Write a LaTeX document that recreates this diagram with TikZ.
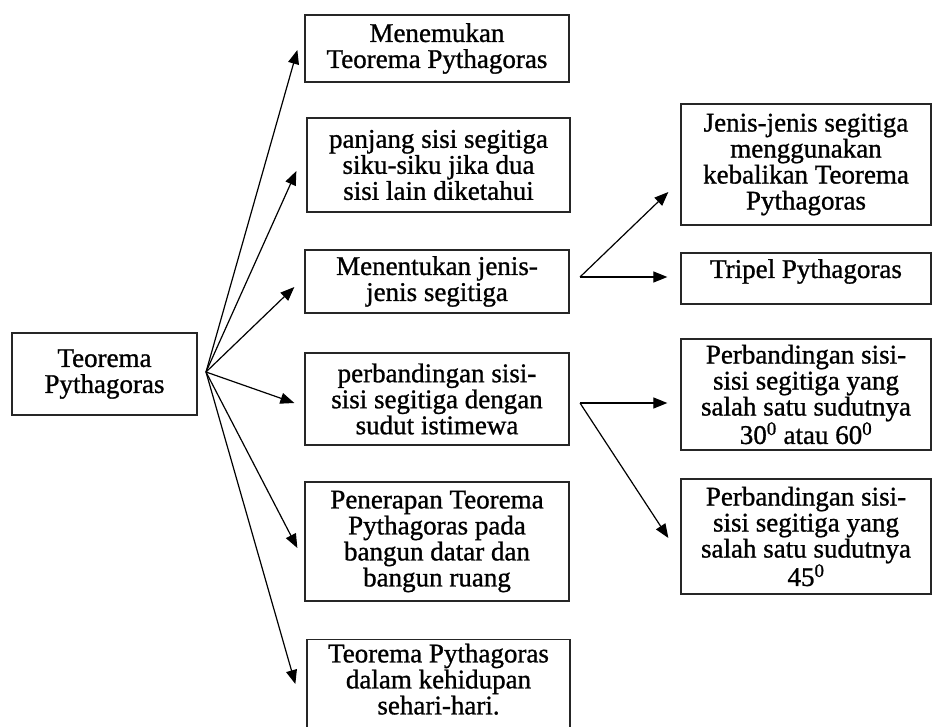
\documentclass[tikz,border=0pt]{standalone}
\usepackage{fontspec}
\setmainfont{Liberation Serif}[FakeBold=1]
\usetikzlibrary{arrows.meta,positioning,calc}

\tikzset{
  box/.style={draw=black!85,line width=1.3pt,align=center,inner sep=0pt,
    font=\fontsize{27}{26}\selectfont},
  arr/.style={line width=1.2pt,-{Triangle[length=14pt,width=11pt]}}
}

\begin{document}
\begin{tikzpicture}[x=1pt,y=-1pt]
  \useasboundingbox (0,0) rectangle (933,727);
  \clip (0,0) rectangle (933,727);

  % pusat
  \node[box,minimum width=185pt,minimum height=82pt] (root) at (104.5,374)
    {Teorema\\Pythagoras};

  % kolom tengah
  \node[box,minimum width=264pt,minimum height=67pt] (menemukan) at (437,48.5)
    {Menemukan\\Teorema Pythagoras};
  \node[box,minimum width=263pt,minimum height=94pt] (panjang) at (438.5,165)
    {panjang sisi segitiga\\siku-siku jika dua\\sisi lain diketahui};
  \node[box,minimum width=264pt,minimum height=63pt] (jenis) at (437,281.5)
    {Menentukan jenis-\\jenis segitiga};
  \node[box,minimum width=264pt,minimum height=92pt] (banding) at (437,399)
    {perbandingan sisi-\\sisi segitiga dengan\\sudut istimewa};
  \node[box,minimum width=264pt,minimum height=119pt] (terap) at (437,541.5)
    {Penerapan Teorema\\Pythagoras pada\\bangun datar dan\\bangun ruang};
  \node[box,minimum width=263pt,anchor=north,inner ysep=4pt] (harian) at (438.5,639)
    {Teorema Pythagoras\\dalam kehidupan\\sehari-hari.\\ \strut};

  % kolom kanan
  \node[box,minimum width=250pt,minimum height=121pt] (kebalikan) at (806,164.5)
    {Jenis-jenis segitiga\\menggunakan\\kebalikan Teorema\\Pythagoras};
  \node[box,minimum width=250pt,minimum height=51pt] (tripel) at (806,278.5)
    {Tripel Pythagoras\\[-14pt] \strut};
  \node[box,minimum width=250pt,minimum height=111pt] (sudutA) at (806,394.5)
    {Perbandingan sisi-\\sisi segitiga yang\\salah satu sudutnya\\30\textsuperscript{0} atau 60\textsuperscript{0}};
  \node[box,minimum width=250pt,minimum height=115pt] (sudutB) at (806,536.5)
    {Perbandingan sisi-\\sisi segitiga yang\\salah satu sudutnya\\45\textsuperscript{0}};

  % titik cabang
  \coordinate (fanA) at (206,372);
  \coordinate (fanB) at (580,277);
  \coordinate (fanC) at (580,403);

  \draw[arr] (fanA) -- ([xshift=-7pt,yshift=-1.5pt]menemukan.west);
  \draw[arr] (fanA) -- ([xshift=-10pt,yshift=-6pt]panjang.west);
  \draw[arr] (fanA) -- ([xshift=-10pt,yshift=-5.5pt]jenis.west);
  \draw[arr] (fanA) -- ([xshift=-10pt,yshift=-4pt]banding.west);
  \draw[arr] (fanA) -- ([xshift=-7pt,yshift=-6.5pt]terap.west);
  \draw[arr] (fanA) -- ([xshift=-11pt,yshift=-45pt]harian.north west);

  \draw[arr] (fanB) -- ([xshift=-12pt,yshift=-27.5pt]kebalikan.west);
  \draw[arr] (fanB) -- ([xshift=-13pt,yshift=1.5pt]tripel.west);
  \draw[arr] (fanC) -- ([xshift=-13pt,yshift=-8.5pt]sudutA.west);
  \draw[arr] (fanC) -- ([xshift=-12pt,yshift=-1.5pt]sudutB.west);
\end{tikzpicture}
\end{document}
